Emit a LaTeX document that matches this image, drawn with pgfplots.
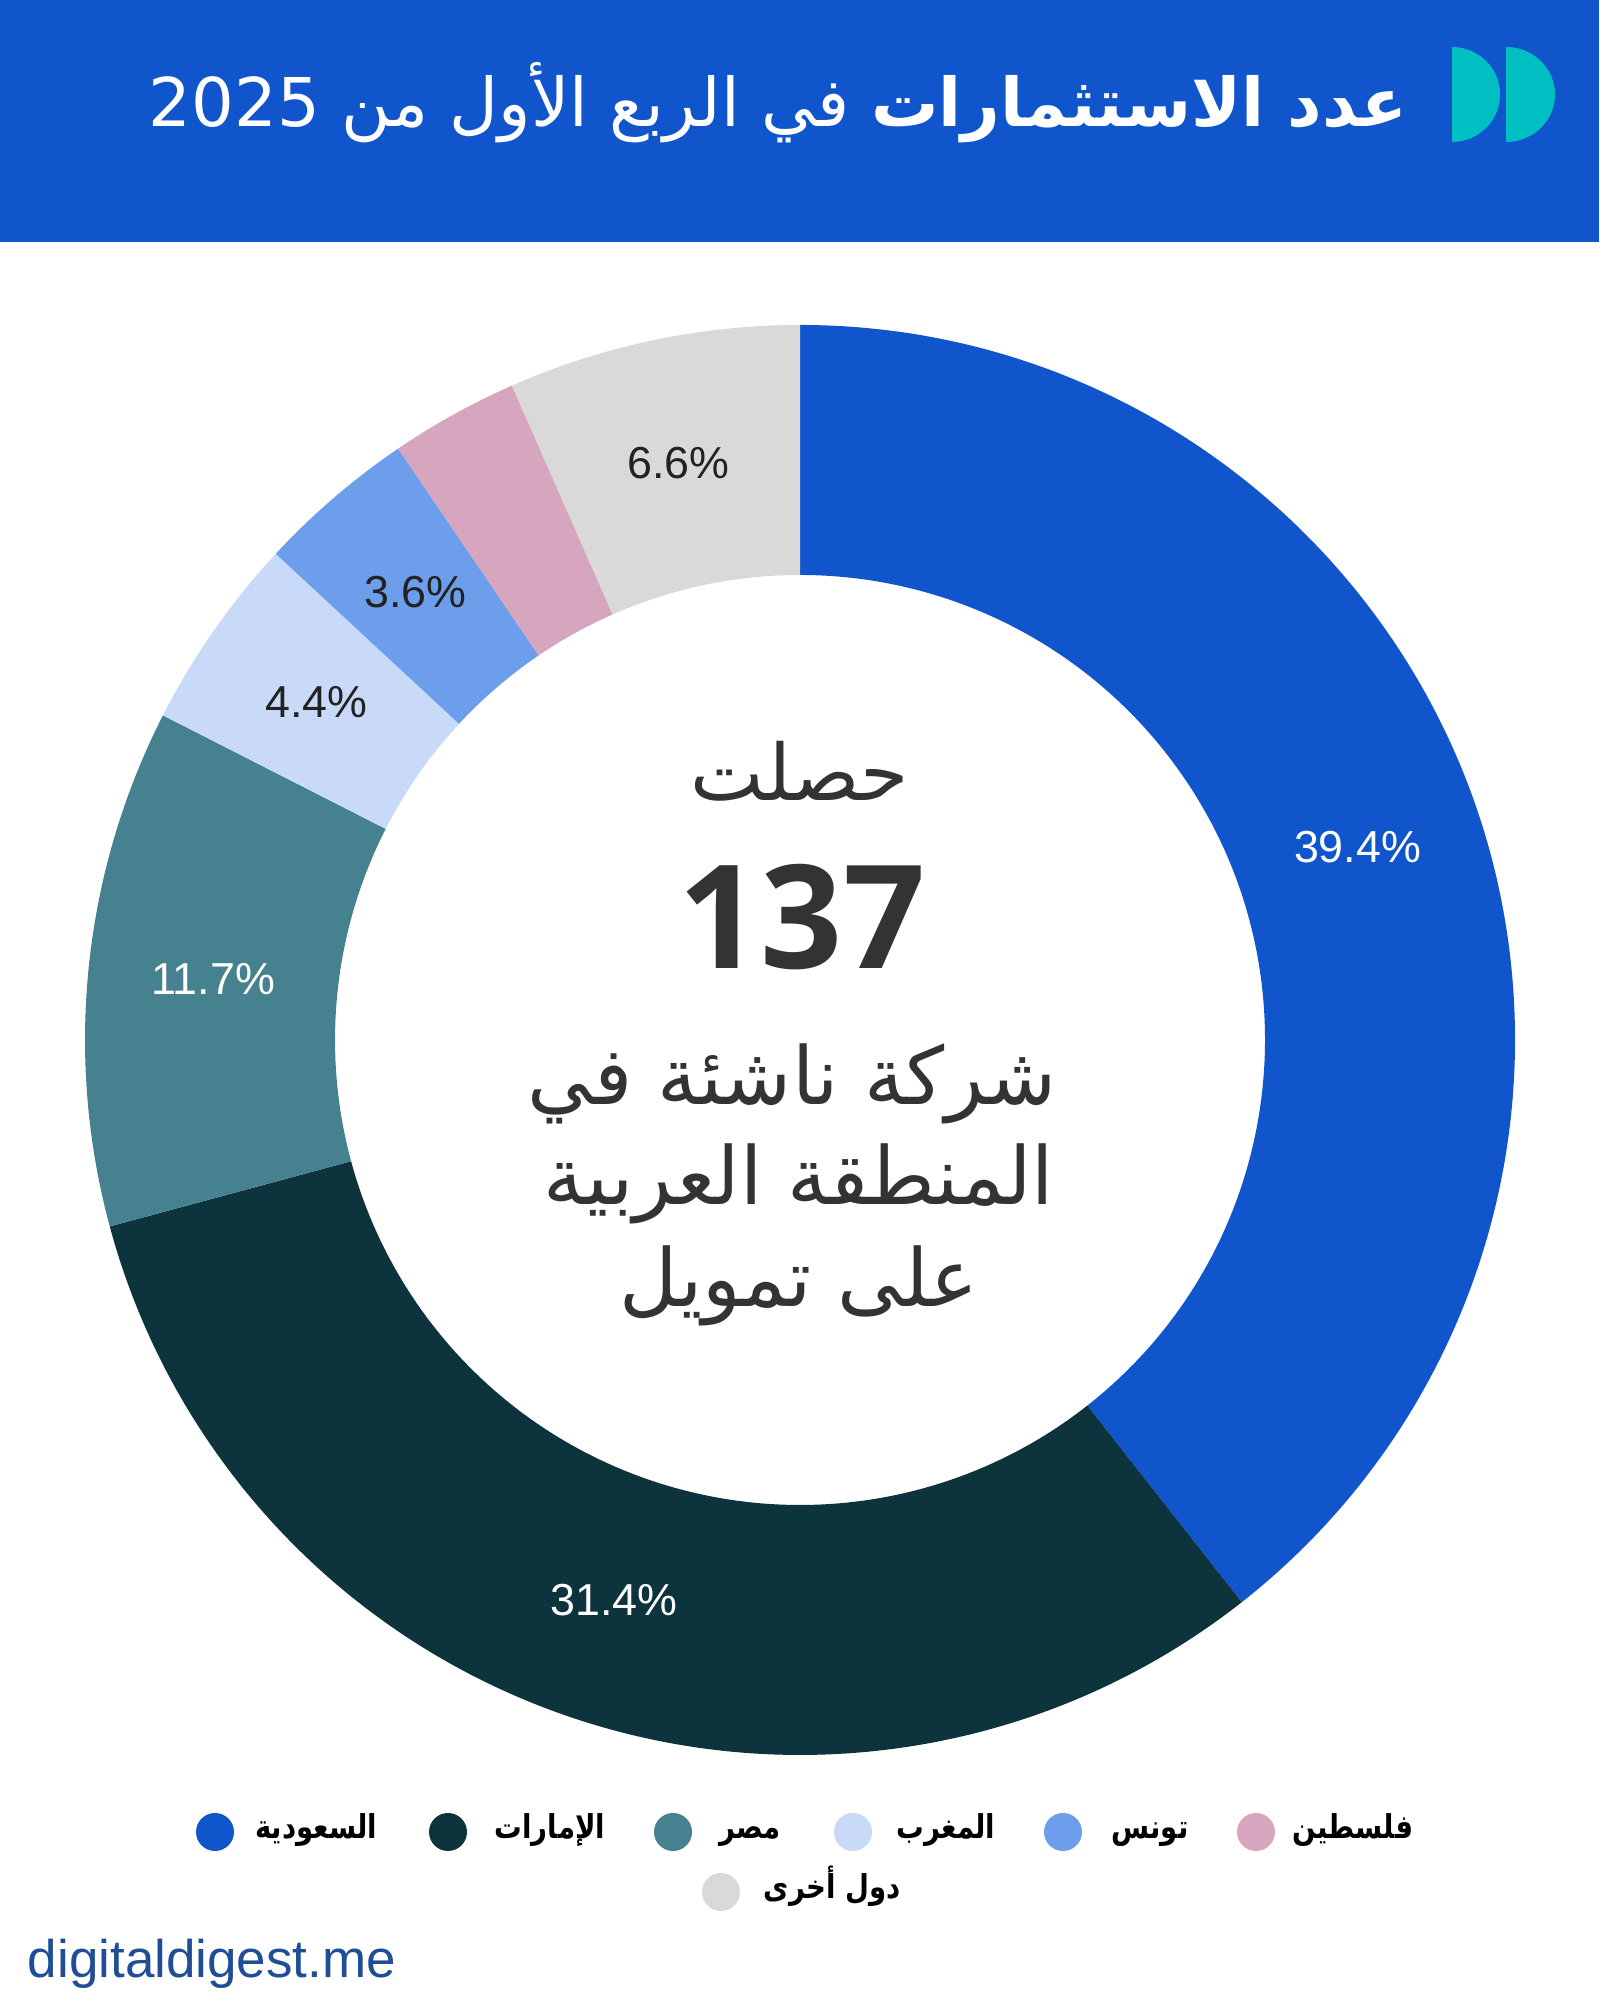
\documentclass[border=0pt]{standalone}
\usepackage{fontspec}
\usepackage{graphicx}
\setmainfont{Liberation Sans}
\newfontfamily\arabicfont[Script=Arabic]{DejaVu Sans}
\newfontfamily\numfont{Open Sans}
\usepackage{pgfplots}
\usepackage{pgfplotstable}
\pgfplotsset{compat=1.18}
\TeXXeTstate=1
\definecolor{cHdr}{HTML}{1155CC}
\definecolor{cLogo}{HTML}{00BFC2}
\definecolor{cSA}{HTML}{1155CC}
\definecolor{cAE}{HTML}{0D343D}
\definecolor{cEG}{HTML}{45818E}
\definecolor{cMA}{HTML}{C9DAF8}
\definecolor{cTN}{HTML}{6D9EEB}
\definecolor{cPS}{HTML}{D5A6BD}
\definecolor{cOT}{HTML}{D9D9D9}
\definecolor{cTxt}{HTML}{333333}
\definecolor{cLab}{HTML}{222222}
\definecolor{cFoot}{HTML}{1F4E96}
\newcommand\lab{\fontsize{11.2}{13}\selectfont}
\newcommand\legfont{\arabicfont\bfseries\fontsize{8.2}{10}\selectfont}
\newcommand\legtext[1]{\scalebox{0.84}[1]{\beginR #1\endR}}
% value = share in percent, clockwise from 12 o'clock
\pgfplotstableread{
name value col lab shw
SA 39.4 cSA white 1
AE 31.4 cAE white 1
EG 11.7 cEG white 1
MA 4.4 cMA cLab 1
TN 3.6 cTN cLab 1
PS 2.9 cPS cLab 0
OT 6.6 cOT cLab 1
}\datatable
\begin{document}
\begin{tikzpicture}
\begin{axis}[x=0.25pt,y=0.25pt,xmin=0,xmax=1599,ymin=0,ymax=1999,hide axis,clip=false]
\fill[white] (axis cs:0,0) rectangle (axis cs:1599,1999);
\fill[cHdr] (axis cs:0,1757) rectangle (axis cs:1599,1999);
% logo
\fill[cLogo] (axis cs:1452,1952) arc[start angle=90,end angle=-90,x radius=12pt,y radius=11.875pt] -- cycle;
\fill[cLogo] (axis cs:1506,1952) arc[start angle=90,end angle=-90,x radius=12.25pt,y radius=11.875pt] -- cycle;
% title
\node[anchor=base east,text=white,font=\arabicfont\fontsize{16.8}{20}\selectfont,inner sep=0pt] at (axis cs:1408,1872)
  {\beginR{\bfseries عدد الاستثمارات} في الربع الأول من \beginL2025\endL\endR};
% donut
\def\cum{90}
\pgfplotsforeachungrouped \i in {0,...,6}{%
  \pgfplotstablegetelem{\i}{value}\of\datatable \let\vv\pgfplotsretval
  \pgfplotstablegetelem{\i}{col}\of\datatable \let\sc\pgfplotsretval
  \pgfplotstablegetelem{\i}{lab}\of\datatable \let\lc\pgfplotsretval
  \pgfplotstablegetelem{\i}{shw}\of\datatable \let\sh\pgfplotsretval
  \pgfmathsetmacro\aA{\cum}%
  \pgfmathsetmacro\aB{\cum-3.6*\vv}%
  \pgfmathsetmacro\aM{(\aA+\aB)/2}%
  \edef\doit{\noexpand\fill[\sc] (axis cs:{800+715*cos(\aA)},{959+715*sin(\aA)}) arc[start angle=\aA, end angle=\aB, radius=178.75pt] -- (axis cs:{800+465*cos(\aB)},{959+465*sin(\aB)}) arc[start angle=\aB, end angle=\aA, radius=116.25pt] -- cycle;}%
  \doit
  \ifnum\sh=1
    \edef\doit{\noexpand\node[text=\lc,font=\noexpand\lab,inner sep=0pt] at (axis cs:{800+590*cos(\aM)},{959+590*sin(\aM)}) {\vv\noexpand\%};}%
    \doit
  \fi
  \global\let\cum\aB
}
% centre text
\node[anchor=base,text=cTxt,font=\arabicfont\fontsize{19.5}{24}\selectfont,inner sep=0pt] at (axis cs:800,1198) {\beginR حصلت\endR};
\node[anchor=base,text=cTxt,font=\numfont\bfseries\fontsize{36}{40}\selectfont,inner sep=0pt] at (axis cs:802,1030) {137};
\node[anchor=base,text=cTxt,font=\arabicfont\fontsize{20}{24}\selectfont,inner sep=0pt] at (axis cs:792,894) {\beginR شركة ناشئة في\endR};
\node[anchor=base,text=cTxt,font=\arabicfont\fontsize{20}{24}\selectfont,inner sep=0pt] at (axis cs:799,794) {\beginR المنطقة العربية\endR};
\node[anchor=base,text=cTxt,font=\arabicfont\fontsize{20}{24}\selectfont,inner sep=0pt] at (axis cs:799,692) {\beginR على تمويل\endR};
% legend
\foreach \cx/\tx/\cy/\ty/\cc/\lt in {215/316/167/160/cSA/السعودية, 448/550/167/160/cAE/الإمارات, 673/750/167/160/cEG/مصر, 853/946/167/160/cMA/المغرب, 1063/1150/167/160/cTN/تونس, 1256/1353/167/160/cPS/فلسطين, 721/832/107/100/cOT/دول أخرى}{
  \edef\doit{\noexpand\fill[\cc] (axis cs:\cx,\cy) circle[radius=4.75pt];
  \noexpand\node[anchor=base,text=black,font=\noexpand\legfont,inner sep=0pt] at (axis cs:\tx,\ty) {\noexpand\legtext{\lt}};}%
  \doit
}
% footer
\node[anchor=base west,text=cFoot,font=\fontsize{13.25}{15}\selectfont,inner sep=0pt] at (axis cs:27,22) {digitaldigest.me};
\end{axis}
\end{tikzpicture}
\end{document}
